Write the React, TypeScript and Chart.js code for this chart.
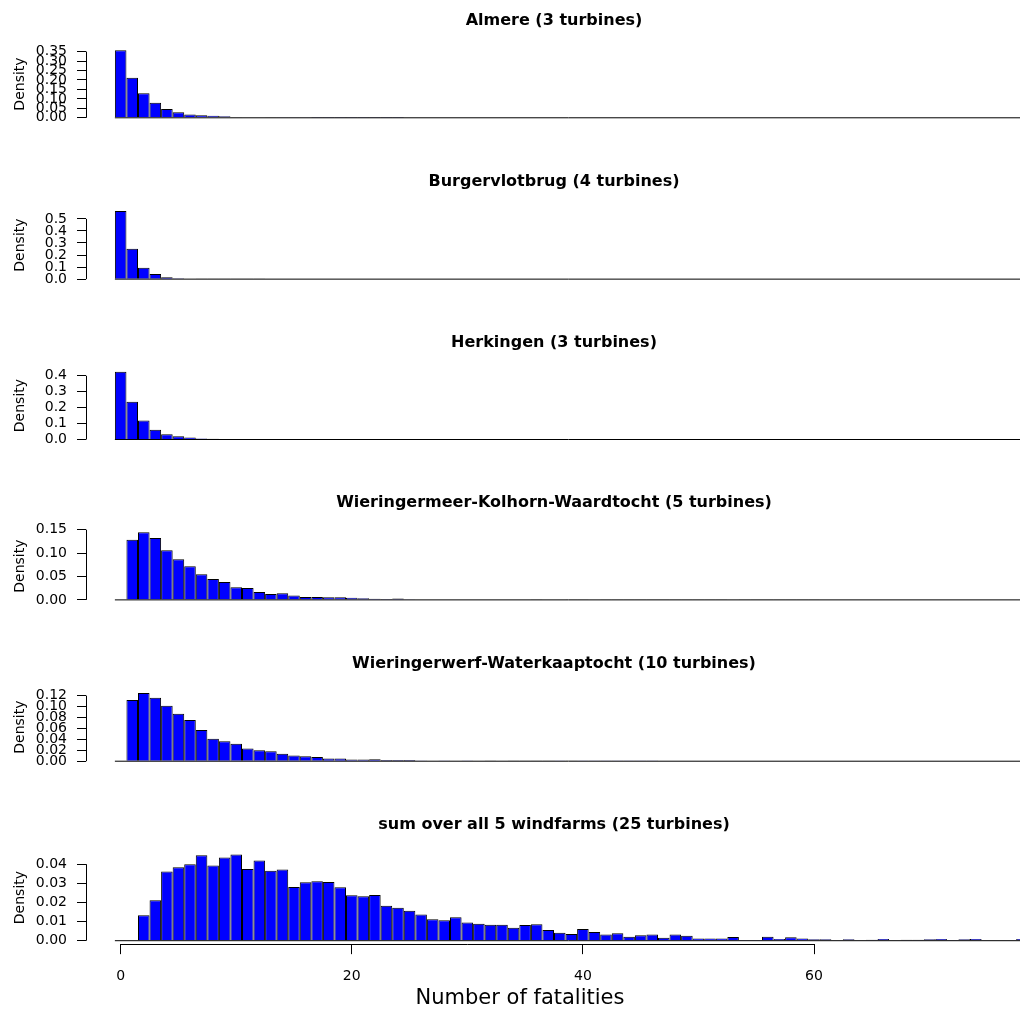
import { useEffect, useRef } from "react";
import { Chart, registerables } from "chart.js";

Chart.register(...registerables);
Chart.defaults.font.family = "'DejaVu Sans', 'Liberation Sans', sans-serif";
Chart.defaults.color = "#000";

// Histogram densities per unit-width bin, index = number of fatalities
const almereDensity = [
  0.357, 0.212, 0.1295, 0.08, 0.047, 0.029, 0.018, 0.0138, 0.011, 0.0083,
  0.004, 0.003, 0.0025, 0.002, 0.0012, 0.001, 0.001, 0.0008, 0.0006, 0.0006,
  0.0005, 0.0004, 0.0003, 0.0003, 0.0002,
];
const burgervlotbrugDensity = [
  0.566, 0.252, 0.094, 0.042, 0.015, 0.007, 0.003, 0.002, 0.001, 0.0006,
  0.0004, 0.0003, 0.0002,
];
const herkingenDensity = [
  0.426, 0.237, 0.12, 0.061, 0.033, 0.02, 0.013, 0.007, 0.004, 0.003,
  0.002, 0.002, 0.0015, 0.001, 0.0008, 0.0006, 0.0006, 0.0005, 0.001, 0.0004,
  0.0003, 0.0002,
];
const wieringermeerDensity = [
  0, 0.1287, 0.1444, 0.132, 0.1058, 0.0868, 0.0716, 0.0549, 0.0448, 0.038,
  0.0269, 0.0252, 0.0168, 0.0123, 0.014, 0.0095, 0.0062, 0.0062, 0.0056, 0.0056,
  0.0045, 0.0034, 0.0022, 0.0017, 0.0028, 0.0015, 0.001, 0.001, 0.001, 0.0008,
  0.0009, 0.0008, 0.0006, 0.0008, 0.0007, 0.0006, 0.0004, 0.0007, 0.0006, 0.0003,
  0.0003, 0.0006, 0.0003, 0.0002, 0.0002, 0.0002, 0.0002, 0.0002, 0.0002, 0.0002,
  0.0002, 0.0002, 0.0002, 0.0006, 0.0005, 0.0002, 0.0002, 0.0002, 0.0002, 0.0002,
  0.0005,
];
const wieringerwerfDensity = [
  0, 0.112, 0.1248, 0.116, 0.1016, 0.087, 0.0755, 0.057, 0.041, 0.0363,
  0.0319, 0.0232, 0.0199, 0.0184, 0.0135, 0.0106, 0.009, 0.0075, 0.005, 0.005,
  0.003, 0.003, 0.0035, 0.002, 0.002, 0.002, 0.0015, 0.001, 0.0015, 0.001,
  0.0015, 0.0008, 0.0006, 0.0008, 0.0005, 0.0005, 0.0004, 0.0004, 0.0003, 0.0004,
  0.0003, 0.0003, 0.0002, 0.0003, 0.0002, 0.0002, 0.0002,
];
const allWindfarmsDensity = [
  0, 0, 0.0133, 0.0211, 0.0361, 0.0384, 0.04, 0.0446, 0.0393, 0.0435,
  0.0451, 0.0375, 0.0419, 0.0365, 0.0372, 0.0281, 0.0305, 0.0311, 0.0307, 0.0279,
  0.0237, 0.0232, 0.0239, 0.0182, 0.0172, 0.0156, 0.0137, 0.0112, 0.0107, 0.0123,
  0.0095, 0.0088, 0.0084, 0.0084, 0.0068, 0.0082, 0.0086, 0.0056, 0.0042, 0.0035,
  0.0061, 0.0046, 0.0032, 0.0039, 0.002, 0.0028, 0.0033, 0.0016, 0.0033, 0.0026,
  0.0012, 0.0012, 0.0012, 0.0019, 0.0004, 0.0004, 0.0021, 0.0009, 0.0018, 0.0012,
  0.0007, 0.0007, 0, 0.0007, 0, 0.0005, 0.0009, 0, 0.0005, 0.0005,
  0.0007, 0.0009, 0.0004, 0.0007, 0.0009, 0.0002, 0.0002, 0, 0.0009,
];

// Panel titles
const panelTitles = [
  "Almere (3 turbines)",
  "Burgervlotbrug (4 turbines)",
  "Herkingen (3 turbines)",
  "Wieringermeer-Kolhorn-Waardtocht (5 turbines)",
  "Wieringerwerf-Waterkaaptocht (10 turbines)",
  "sum over all 5 windfarms (25 turbines)",
];

// Y tick labels per panel
const almereTicks = ["0.00", "0.05", "0.10", "0.15", "0.20", "0.25", "0.30", "0.35"];
const burgervlotbrugTicks = ["0.0", "0.1", "0.2", "0.3", "0.4", "0.5"];
const herkingenTicks = ["0.0", "0.1", "0.2", "0.3", "0.4"];
const wieringermeerTicks = ["0.00", "0.05", "0.10", "0.15"];
const wieringerwerfTicks = ["0.00", "0.02", "0.04", "0.06", "0.08", "0.10", "0.12"];
const allWindfarmsTicks = ["0.00", "0.01", "0.02", "0.03", "0.04"];

// Shared x axis
const xTickLabels = ["0", "20", "40", "60"];
const xAxisTitle = "Number of fatalities";
const yAxisTitle = "Density";

const panelDensities = [
  almereDensity,
  burgervlotbrugDensity,
  herkingenDensity,
  wieringermeerDensity,
  wieringerwerfDensity,
  allWindfarmsDensity,
];
const panelTicks = [
  almereTicks,
  burgervlotbrugTicks,
  herkingenTicks,
  wieringermeerTicks,
  wieringerwerfTicks,
  allWindfarmsTicks,
];

// Layout (pixels)
const PAGE_W = 1020;
const PAGE_H = 1012;
const CANVAS_W = 1040;
const PLOT_LEFT = 86;
const PLOT_RIGHT = 1022;
const X_MIN = -3;
const X_MAX = 78;
const FIRST_ZERO = 137.3;
const PANEL_STEP = 160.68;
const PLOT_ABOVE_ZERO = 89.75;
const PLOT_BELOW_ZERO = 3.45;
const TITLE_MID_ABOVE_ZERO = 116;
const TITLE_SIZE = 16;
// Outer x label: centred on the whole figure width, not the plot region
const OUTER_LABEL_X = CANVAS_W / 2;
const OUTER_LABEL_MID_FROM_BOTTOM = 13;

// R-style axis lines (span first..last tick) and the histogram baseline
const rAxesPlugin = {
  id: "rAxes",
  afterDatasetsDraw(chart: any) {
    const { ctx, chartArea } = chart;
    const xs = chart.scales.x;
    const ys = chart.scales.y;
    const y0 = ys.getPixelForValue(0);
    ctx.save();
    ctx.strokeStyle = "#000";
    ctx.lineWidth = 1;
    ctx.beginPath();
    ctx.moveTo(xs.getPixelForValue(-0.5), y0);
    ctx.lineTo(chartArea.right, y0);
    ctx.stroke();
    ctx.restore();
  },
  afterDraw(chart: any) {
    const { ctx, chartArea } = chart;
    const ys = chart.scales.y;
    const xs = chart.scales.x;
    ctx.save();
    ctx.strokeStyle = "#000";
    ctx.lineWidth = 1;
    const yt = ys.ticks;
    const lx = Math.round(chartArea.left) + 0.5;
    ctx.beginPath();
    ctx.moveTo(lx, ys.getPixelForValue(yt[0].value));
    ctx.lineTo(lx, ys.getPixelForValue(yt[yt.length - 1].value));
    ctx.stroke();
    if (xs.options.display) {
      const xt = xs.ticks;
      const by = Math.round(chartArea.bottom) + 0.5;
      ctx.beginPath();
      ctx.moveTo(xs.getPixelForValue(xt[0].value), by);
      ctx.lineTo(xs.getPixelForValue(xt[xt.length - 1].value), by);
      ctx.stroke();
      // outer x-axis label
      ctx.fillStyle = "#000";
      ctx.font = "21px 'DejaVu Sans', 'Liberation Sans', sans-serif";
      ctx.textAlign = "center";
      ctx.textBaseline = "middle";
      ctx.fillText(xAxisTitle, OUTER_LABEL_X, chart.height - OUTER_LABEL_MID_FROM_BOTTOM);
    }
    ctx.restore();
  },
};

function Panel({ index, top, height }: { index: number; top: number; height: number }) {
  const ref = useRef<HTMLCanvasElement>(null);

  useEffect(() => {
    const values = panelDensities[index];
    const ticks = panelTicks[index];
    const isLast = index === panelDensities.length - 1;
    const peak = Math.max(...values);

    const zero = FIRST_ZERO + PANEL_STEP * index - top;
    const plotTop = zero - PLOT_ABOVE_ZERO;
    const plotBottom = zero + PLOT_BELOW_ZERO;
    const titleLine = TITLE_SIZE * 1.2;
    const titlePadTop = zero - TITLE_MID_ABOVE_ZERO - titleLine / 2;
    const titlePadBottom = plotTop - titlePadTop - titleLine;

    const chart = new Chart(ref.current!, {
      type: "bar",
      data: {
        datasets: [
          {
            data: values.map((v, i) => ({ x: i, y: v })),
            backgroundColor: "#0000ff",
            borderColor: "#000",
            borderWidth: 1,
            borderSkipped: "start",
            inflateAmount: 0,
            barPercentage: 1,
            categoryPercentage: 1,
          },
        ],
      },
      options: {
        responsive: false,
        animation: false,
        layout: {
          padding: {
            top: 0,
            left: 0,
            right: CANVAS_W - PLOT_RIGHT,
            bottom: isLast ? 0 : height - plotBottom,
          },
        },
        plugins: {
          legend: { display: false },
          tooltip: { enabled: false },
          title: {
            display: true,
            text: panelTitles[index],
            fullSize: false,
            color: "#000",
            font: { size: TITLE_SIZE, weight: "bold" },
            padding: { top: titlePadTop, bottom: titlePadBottom },
          },
        },
        scales: {
          x: {
            type: "linear",
            min: X_MIN,
            max: X_MAX,
            bounds: "data",
            offset: false,
            display: isLast,
            afterBuildTicks: (s: any) => {
              s.ticks = xTickLabels.map((t) => ({ value: Number(t) }));
            },
            afterFit: (s: any) => {
              s.height = height - plotBottom;
            },
            ticks: {
              autoSkip: false,
              maxRotation: 0,
              padding: 13.5,
              color: "#000",
              font: { size: 14 },
              callback: (_v: any, i: number) => xTickLabels[i],
            },
            grid: {
              offset: false,
              drawOnChartArea: false,
              drawTicks: true,
              tickLength: 10,
              color: "#000",
            },
            border: { display: false },
            title: { display: false },
          },
          y: {
            type: "linear",
            min: -0.04 * peak,
            max: 1.04 * peak,
            bounds: "data",
            afterBuildTicks: (s: any) => {
              s.ticks = ticks.map((t) => ({ value: Number(t) }));
            },
            afterFit: (s: any) => {
              s.width = PLOT_LEFT;
            },
            ticks: {
              autoSkip: false,
              padding: 10,
              color: "#000",
              font: { size: 14 },
              callback: (_v: any, i: number) => ticks[i],
            },
            grid: {
              offset: false,
              drawOnChartArea: false,
              drawTicks: true,
              tickLength: 9,
              color: "#000",
            },
            border: { display: false },
            title: {
              display: true,
              text: yAxisTitle,
              color: "#000",
              font: { size: 14 },
              padding: { top: 11.6, bottom: 0 },
            },
          },
        },
      } as any,
      plugins: [rAxesPlugin],
    });
    return () => chart.destroy();
  }, [index, top, height]);

  return (
    <canvas
      ref={ref}
      width={CANVAS_W}
      height={height}
      style={{ position: "absolute", left: 0, top, width: CANVAS_W, height }}
    />
  );
}

export default function App() {
  const tops = panelDensities.map((_, i) => Math.round(PANEL_STEP * i));
  return (
    <div
      style={{
        position: "absolute",
        left: 0,
        top: 0,
        width: PAGE_W,
        height: PAGE_H,
        overflow: "hidden",
        background: "#fff",
      }}
    >
      {tops.map((t, i) => (
        <Panel
          key={i}
          index={i}
          top={t}
          height={(i + 1 < tops.length ? tops[i + 1] : PAGE_H) - t}
        />
      ))}
    </div>
  );
}
